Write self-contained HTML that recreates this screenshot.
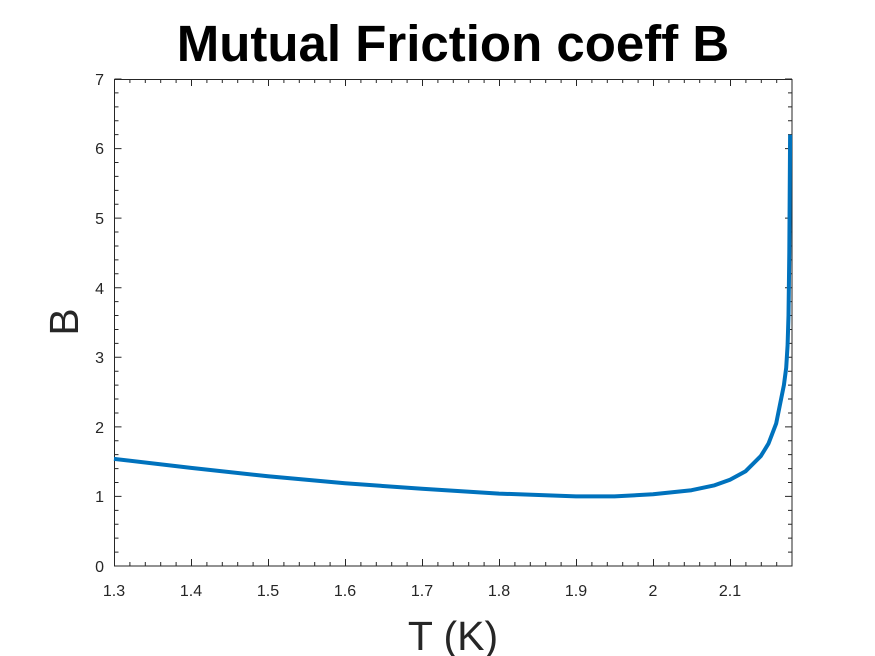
<!DOCTYPE html>
<html><head><style>body{margin:0;background:#fff}svg{display:block}text{font-family:"Liberation Sans",Arial,sans-serif;fill:#262626}</style></head>
<body>
<svg width="875" height="656" viewBox="0 0 875 656">
<rect width="875" height="656" fill="#fff"/>
<text x="453" y="61" font-size="51" font-weight="bold" text-anchor="middle" style="fill:#000">Mutual Friction coeff B</text>
<rect x="114.5" y="79.5" width="677.5" height="486.5" fill="none" stroke="#262626" stroke-width="1"/>
<path id="xt" stroke="#262626" stroke-width="1" fill="none" d=""/>
<polyline fill="none" stroke="#0072BD" stroke-width="4" stroke-linejoin="round" points="114,458.9 191,467.9 268,476.3 345,483.2 422,488.8 499,493.6 576,496.4 614.5,496.4 653,494.3 691.5,490.2 714.6,485.3 730,479.7 745.4,471.4 760.8,456.1 768.5,443.6 776.2,423.4 783.9,385.1 786.2,367.7 787.6,345 788.5,315.6 789.3,252.9 790.1,134.7"/>
<g font-size="16" text-anchor="middle">
<text x="114" y="596">1.3</text><text x="191" y="596">1.4</text><text x="268" y="596">1.5</text><text x="345" y="596">1.6</text><text x="422" y="596">1.7</text><text x="499" y="596">1.8</text><text x="576" y="596">1.9</text><text x="653" y="596">2</text><text x="730" y="596">2.1</text>
</g>
<g font-size="16" text-anchor="end">
<text x="104" y="572">0</text><text x="104" y="502">1</text><text x="104" y="433">2</text><text x="104" y="363">3</text><text x="104" y="294">4</text><text x="104" y="224">5</text><text x="104" y="154">6</text><text x="104" y="85">7</text>
</g>
<text x="453" y="650" font-size="41" text-anchor="middle">T (K)</text>
<text transform="translate(78,322) rotate(-90)" font-size="41" text-anchor="middle">B</text>
<script>
var s='';
for(var i=0;i<=44;i++){var x=114.5+i*15.4;if(x>792)break;var L=(i%5==0)?7:4;
s+='M'+x+' 566v-'+L+'M'+x+' 79v'+L;}
for(var j=0;j<=35;j++){var y=566-j*0.2*69.571;var L=(j%5==0)?7:4;
s+='M114.5 '+y+'h'+L+'M792 '+y+'h-'+L;}
document.getElementById('xt').setAttribute('d',s);
</script>
</svg>
</body></html>
